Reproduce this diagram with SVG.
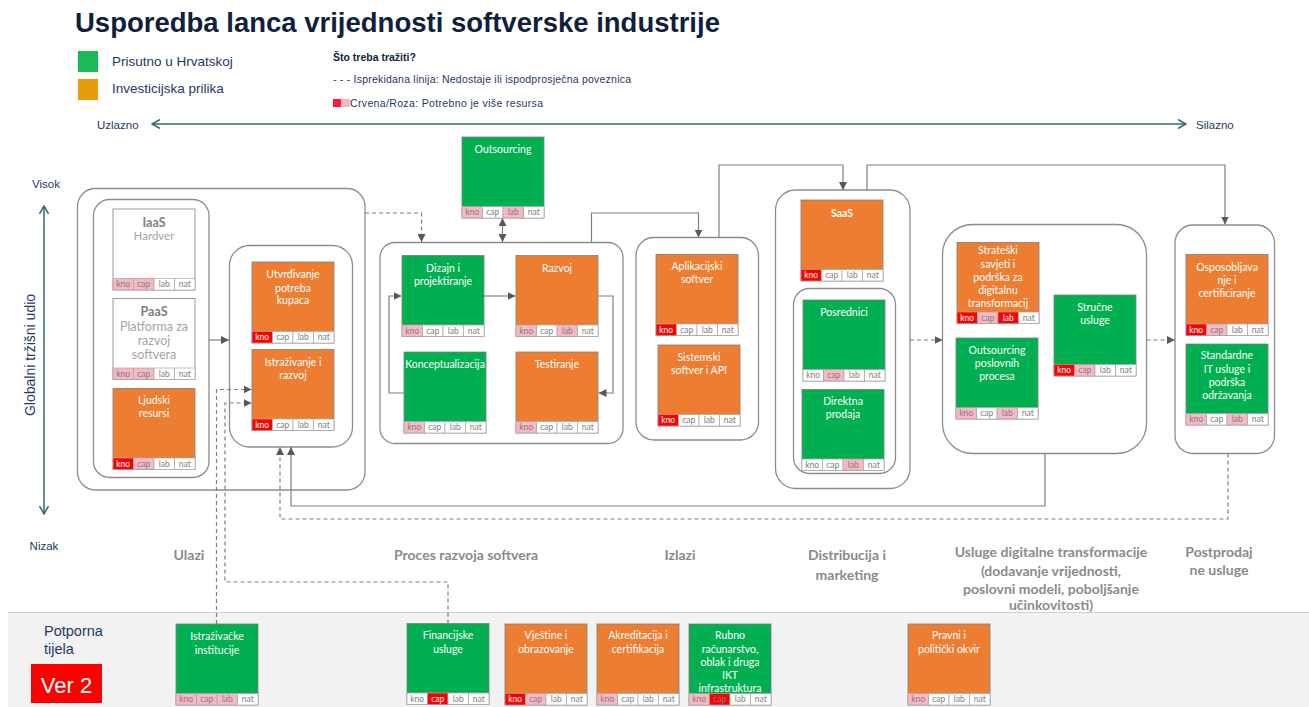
<svg xmlns="http://www.w3.org/2000/svg" width="1309" height="707" viewBox="0 0 1309 707">
<style>
.box{stroke:#7f7f7f;stroke-width:0.8}
.g{fill:#00b050}.o{fill:#ed7d31}.w{fill:#fff}
.cw{fill:#fff;stroke:#a6a6a6;stroke-width:0.7}
.cp{fill:#f8b7c3;stroke:#a6a6a6;stroke-width:0.7}
.cr{fill:#ff0000;stroke:#a6a6a6;stroke-width:0.7}
.t{font-family:Lato,"Liberation Sans",sans-serif;font-size:10.5px;fill:#fff;text-anchor:middle}
.ct{font-family:Lato,"Liberation Sans",sans-serif;font-size:8.5px;fill:#808080;text-anchor:middle}
.ctw{fill:#fff}
.cont{fill:none;stroke:#8c8c8c;stroke-width:1.3}
.conn{fill:none;stroke:#7f7f7f;stroke-width:1.2}
.dash{stroke-dasharray:4 3}
.teal{fill:none;stroke:#2e6b6b;stroke-width:1.5}
.nav{font-family:"Liberation Sans",Arial,sans-serif;fill:#1f3864}
.stage{font-family:Lato,"Liberation Sans",sans-serif;font-size:14px;font-weight:bold;fill:#8a8a8a;text-anchor:middle}
</style>
<defs>
<marker id="ah" viewBox="0 0 10 10" refX="10" refY="5" markerWidth="8" markerHeight="8" markerUnits="userSpaceOnUse" orient="auto-start-reverse"><path d="M0,0 L10,5 L0,10 Z" fill="#595959"/></marker>
<marker id="ch" viewBox="0 0 10 10" refX="9" refY="5" markerWidth="10" markerHeight="10" markerUnits="userSpaceOnUse" orient="auto-start-reverse"><path d="M1,0.5 L9,5 L1,9.5" fill="none" stroke="#2e6b6b" stroke-width="1.5"/></marker>
</defs>
<rect width="1309" height="707" fill="#fff"/>

<g id="header">
<text x="75" y="32" font-family="Liberation Sans,Arial,sans-serif" font-size="27.5" font-weight="bold" fill="#0f1f3d">Usporedba lanca vrijednosti softverske industrije</text>
<rect x="78" y="51" width="20" height="21" fill="#1db954"/>
<rect x="78" y="79" width="20" height="21" fill="#e89c0c"/>
<text x="112" y="66" class="nav" font-size="13.5" fill="#333">Prisutno u Hrvatskoj</text>
<text x="112" y="93" class="nav" font-size="13.5" fill="#333">Investicijska prilika</text>
<text x="333" y="61" font-family="Liberation Sans,Arial,sans-serif" font-size="10.5" font-weight="bold" fill="#0f1f3d">Što treba tražiti?</text>
<text x="333" y="83" font-family="Liberation Sans,Arial,sans-serif" font-size="10.5" fill="#1f3864" textLength="298" lengthAdjust="spacing">- - -  Isprekidana linija: Nedostaje  ili ispodprosječna  poveznica</text>
<rect x="333" y="99" width="8" height="8" fill="#ff1a3c"/>
<rect x="341" y="99" width="9" height="8" fill="#f8b7c3"/>
<text x="350" y="107" font-family="Liberation Sans,Arial,sans-serif" font-size="10.5" fill="#1f3864" textLength="193" lengthAdjust="spacing">Crvena/Roza:  Potrebno je više  resursa</text>
<text x="97" y="129" class="nav" font-size="11.5">Uzlazno</text>
<text x="1196" y="129" class="nav" font-size="11.5">Silazno</text>
<path class="teal" d="M152,124 H1186" marker-start="url(#ch)" marker-end="url(#ch)"/>
<text x="46" y="188" class="nav" font-size="11.5" text-anchor="middle">Visok</text>
<text x="44" y="550" class="nav" font-size="11.5" text-anchor="middle">Nizak</text>
<path class="teal" d="M44,206 V514" marker-start="url(#ch)" marker-end="url(#ch)"/>
<text transform="translate(35,355) rotate(-90)" class="nav" font-size="14" text-anchor="middle">Globalni  tržišni udio</text>
</g>

<g id="stage-labels">
<text class="stage" x="189" y="560">Ulazi</text>
<text class="stage" x="466" y="560">Proces razvoja softvera</text>
<text class="stage" x="680" y="560">Izlazi</text>
<text class="stage" x="847" y="560">Distribucija i</text>
<text class="stage" x="847" y="580">marketing</text>
<text class="stage" x="1051" y="557">Usluge digitalne transformacije</text>
<text class="stage" x="1051" y="576">(dodavanje vrijednosti,</text>
<text class="stage" x="1051" y="594">poslovni modeli, poboljšanje</text>
<text class="stage" x="1051" y="610">učinkovitosti)</text>
<text class="stage" x="1219" y="557">Postprodaj</text>
<text class="stage" x="1219" y="575">ne usluge</text>
</g>

<g id="support-band">
<rect x="8" y="612" width="1301" height="95" fill="#f2f2f2"/>
<path d="M8,612.5 H1309" stroke="#d0d0d0" stroke-width="1"/>
<text x="44" y="636" class="nav" font-size="14.5">Potporna</text>
<text x="44" y="654" class="nav" font-size="14.5">tijela</text>
<rect x="31" y="664" width="71" height="39" fill="#ff0000"/>
<text x="66.5" y="692.5" font-family="Liberation Sans,Arial,sans-serif" font-size="22" fill="#fff" text-anchor="middle">Ver 2</text>
</g>

<g id="containers">
<rect id="c-ulazi" class="cont" x="77.5" y="188.5" width="287.5" height="301.5" rx="18"/>
<rect id="c-ulazi-l" class="cont" x="93.5" y="199.5" width="115.5" height="278" rx="16"/>
<rect id="c-ulazi-r" class="cont" x="229.5" y="245.5" width="123" height="201.5" rx="20"/>
<rect id="c-proces" class="cont" x="380" y="242.5" width="243" height="201" rx="15"/>
<rect id="c-izlazi" class="cont" x="636" y="237.5" width="122.5" height="202.5" rx="18"/>
<rect id="c-distr" class="cont" x="775.5" y="190" width="134.5" height="298.5" rx="20"/>
<rect id="c-distr-in" class="cont" x="793.5" y="288.5" width="102" height="185" rx="16"/>
<rect id="c-usluge" class="cont" x="942.5" y="224.5" width="204" height="229" rx="30"/>
<rect id="c-postprodaja" class="cont" x="1175" y="225" width="99.5" height="228.5" rx="18"/>
</g>

<g id="connectors">
<path class="conn" d="M209,340 H229" marker-end="url(#ah)"/>
<path class="conn dash" d="M365,213 H421.5 V242" marker-end="url(#ah)"/>
<path class="conn" d="M502.5,218 V242" marker-start="url(#ah)" marker-end="url(#ah)"/>
<path class="conn" d="M484,296 H515.5" marker-end="url(#ah)"/>
<path class="conn" d="M598,296 H613 V393 H598.5" marker-end="url(#ah)"/>
<path class="conn" d="M404,393 H389 V296 H401.5" marker-end="url(#ah)"/>
<path class="conn" d="M591.5,242.5 V213 H698.5 V237.5" marker-end="url(#ah)"/>
<path class="conn" d="M719,237.5 V165 H843 V190" marker-end="url(#ah)"/>
<path class="conn" d="M867,190 V165 H1225 V224.5" marker-end="url(#ah)"/>
<path class="conn dash" d="M910,340 H942.5" marker-end="url(#ah)"/>
<path class="conn dash" d="M1146.5,340 H1175" marker-end="url(#ah)"/>
<path class="conn" d="M1045,453.5 V506 H291 V447" marker-end="url(#ah)"/>
<path class="conn dash" d="M1228,453.5 V519 H280 V447" marker-end="url(#ah)"/>
<path class="conn dash" d="M216.5,624 V389.5 H251.5" marker-end="url(#ah)"/>
<path class="conn dash" d="M448,623.5 V582 H225 V403 H251.5" marker-end="url(#ah)"/>
</g>

<g id="n-iaas">
<rect class="box w" x="113" y="209" width="82" height="81"/>
<text x="154" y="227" font-family="Lato,Liberation Sans,sans-serif" font-size="12.5" font-weight="bold" fill="#7f7f7f" text-anchor="middle">IaaS</text>
<text x="154" y="239.5" font-family="Lato,Liberation Sans,sans-serif" font-size="11.5" fill="#a6a6a6" text-anchor="middle">Hardver</text>
<rect class="cp" x="113" y="278.5" width="20.5" height="11.5"/><rect class="cp" x="133.5" y="278.5" width="20.5" height="11.5"/><rect class="cw" x="154" y="278.5" width="20.5" height="11.5"/><rect class="cw" x="174.5" y="278.5" width="20.5" height="11.5"/>
<text class="ct" x="123.25" y="287.3">kno</text><text class="ct" x="143.75" y="287.3">cap</text><text class="ct" x="164.25" y="287.3">lab</text><text class="ct" x="184.75" y="287.3">nat</text>
</g>

<g id="n-paas">
<rect class="box w" x="113" y="298.5" width="82" height="81"/>
<text x="154" y="316" font-family="Lato,Liberation Sans,sans-serif" font-size="12.5" font-weight="bold" fill="#7f7f7f" text-anchor="middle">PaaS</text>
<text x="154" y="330.5" font-family="Lato,Liberation Sans,sans-serif" font-size="12.5" fill="#a6a6a6" text-anchor="middle">Platforma za</text>
<text x="154" y="344.5" font-family="Lato,Liberation Sans,sans-serif" font-size="12.5" fill="#a6a6a6" text-anchor="middle">razvoj</text>
<text x="154" y="359" font-family="Lato,Liberation Sans,sans-serif" font-size="12.5" fill="#a6a6a6" text-anchor="middle">softvera</text>
<rect class="cp" x="113" y="368" width="20.5" height="11.5"/><rect class="cp" x="133.5" y="368" width="20.5" height="11.5"/><rect class="cw" x="154" y="368" width="20.5" height="11.5"/><rect class="cw" x="174.5" y="368" width="20.5" height="11.5"/>
<text class="ct" x="123.25" y="376.8">kno</text><text class="ct" x="143.75" y="376.8">cap</text><text class="ct" x="164.25" y="376.8">lab</text><text class="ct" x="184.75" y="376.8">nat</text>
</g>

<g id="n-ljudski">
<rect class="box o" x="113" y="388.5" width="82" height="81"/>
<text class="t" x="154" y="404">Ljudski</text><text class="t" x="154" y="417">resursi</text>
<rect class="cr" x="113" y="458" width="20.5" height="11.5"/><rect class="cp" x="133.5" y="458" width="20.5" height="11.5"/><rect class="cw" x="154" y="458" width="20.5" height="11.5"/><rect class="cw" x="174.5" y="458" width="20.5" height="11.5"/>
<text class="ct ctw" x="123.25" y="466.8">kno</text><text class="ct" x="143.75" y="466.8">cap</text><text class="ct" x="164.25" y="466.8">lab</text><text class="ct" x="184.75" y="466.8">nat</text>
</g>

<g id="n-utvrdivanje">
<rect class="box o" x="252" y="262" width="82" height="81"/>
<text class="t" x="293" y="278">Utvrđivanje</text><text class="t" x="293" y="291.5">potreba</text><text class="t" x="293" y="304">kupaca</text>
<rect class="cr" x="252" y="331.5" width="20.5" height="11.5"/><rect class="cw" x="272.5" y="331.5" width="20.5" height="11.5"/><rect class="cw" x="293" y="331.5" width="20.5" height="11.5"/><rect class="cw" x="313.5" y="331.5" width="20.5" height="11.5"/>
<text class="ct ctw" x="262.25" y="340.3">kno</text><text class="ct" x="282.75" y="340.3">cap</text><text class="ct" x="303.25" y="340.3">lab</text><text class="ct" x="323.75" y="340.3">nat</text>
</g>

<g id="n-istrazivanje">
<rect class="box o" x="252" y="349.5" width="82" height="81"/>
<text class="t" x="293" y="366">Istraživanje i</text><text class="t" x="293" y="378.5">razvoj</text>
<rect class="cr" x="252" y="419" width="20.5" height="11.5"/><rect class="cw" x="272.5" y="419" width="20.5" height="11.5"/><rect class="cw" x="293" y="419" width="20.5" height="11.5"/><rect class="cw" x="313.5" y="419" width="20.5" height="11.5"/>
<text class="ct ctw" x="262.25" y="427.8">kno</text><text class="ct" x="282.75" y="427.8">cap</text><text class="ct" x="303.25" y="427.8">lab</text><text class="ct" x="323.75" y="427.8">nat</text>
</g>

<g id="n-outsourcing">
<rect class="box g" x="462" y="137" width="82" height="81"/>
<text class="t" x="503" y="152.5">Outsourcing</text>
<rect class="cp" x="462" y="206.5" width="20.5" height="11.5"/><rect class="cw" x="482.5" y="206.5" width="20.5" height="11.5"/><rect class="cp" x="503" y="206.5" width="20.5" height="11.5"/><rect class="cw" x="523.5" y="206.5" width="20.5" height="11.5"/>
<text class="ct" x="472.25" y="215.3">kno</text><text class="ct" x="492.75" y="215.3">cap</text><text class="ct" x="513.25" y="215.3">lab</text><text class="ct" x="533.75" y="215.3">nat</text>
</g>

<g id="n-dizajn">
<rect class="box g" x="402" y="255.5" width="82" height="81"/>
<text class="t" x="443" y="271.5">Dizajn i</text><text class="t" x="443" y="285">projektiranje</text>
<rect class="cp" x="402" y="325" width="20.5" height="11.5"/><rect class="cw" x="422.5" y="325" width="20.5" height="11.5"/><rect class="cw" x="443" y="325" width="20.5" height="11.5"/><rect class="cw" x="463.5" y="325" width="20.5" height="11.5"/>
<text class="ct" x="412.25" y="333.8">kno</text><text class="ct" x="432.75" y="333.8">cap</text><text class="ct" x="453.25" y="333.8">lab</text><text class="ct" x="473.75" y="333.8">nat</text>
</g>

<g id="n-razvoj">
<rect class="box o" x="516" y="255.5" width="82" height="81"/>
<text class="t" x="557" y="271.5">Razvoj</text>
<rect class="cp" x="516" y="325" width="20.5" height="11.5"/><rect class="cw" x="536.5" y="325" width="20.5" height="11.5"/><rect class="cp" x="557" y="325" width="20.5" height="11.5"/><rect class="cw" x="577.5" y="325" width="20.5" height="11.5"/>
<text class="ct" x="526.25" y="333.8">kno</text><text class="ct" x="546.75" y="333.8">cap</text><text class="ct" x="567.25" y="333.8">lab</text><text class="ct" x="587.75" y="333.8">nat</text>
</g>

<g id="n-konceptualizacija">
<rect class="box g" x="404" y="352" width="82" height="81"/>
<text class="t" x="445" y="367.5">Konceptualizacija</text>
<rect class="cp" x="404" y="421.5" width="20.5" height="11.5"/><rect class="cw" x="424.5" y="421.5" width="20.5" height="11.5"/><rect class="cw" x="445" y="421.5" width="20.5" height="11.5"/><rect class="cw" x="465.5" y="421.5" width="20.5" height="11.5"/>
<text class="ct" x="414.25" y="430.3">kno</text><text class="ct" x="434.75" y="430.3">cap</text><text class="ct" x="455.25" y="430.3">lab</text><text class="ct" x="475.75" y="430.3">nat</text>
</g>

<g id="n-testiranje">
<rect class="box o" x="516" y="352" width="82" height="81"/>
<text class="t" x="557" y="367.5">Testiranje</text>
<rect class="cp" x="516" y="421.5" width="20.5" height="11.5"/><rect class="cw" x="536.5" y="421.5" width="20.5" height="11.5"/><rect class="cw" x="557" y="421.5" width="20.5" height="11.5"/><rect class="cw" x="577.5" y="421.5" width="20.5" height="11.5"/>
<text class="ct" x="526.25" y="430.3">kno</text><text class="ct" x="546.75" y="430.3">cap</text><text class="ct" x="567.25" y="430.3">lab</text><text class="ct" x="587.75" y="430.3">nat</text>
</g>

<g id="n-aplikacijski">
<rect class="box o" x="656" y="254.5" width="82" height="81"/>
<text class="t" x="697" y="270">Aplikacijski</text><text class="t" x="697" y="282.5">softver</text>
<rect class="cr" x="656" y="324" width="20.5" height="11.5"/><rect class="cw" x="676.5" y="324" width="20.5" height="11.5"/><rect class="cw" x="697" y="324" width="20.5" height="11.5"/><rect class="cw" x="717.5" y="324" width="20.5" height="11.5"/>
<text class="ct ctw" x="666.25" y="332.8">kno</text><text class="ct" x="686.75" y="332.8">cap</text><text class="ct" x="707.25" y="332.8">lab</text><text class="ct" x="727.75" y="332.8">nat</text>
</g>

<g id="n-sistemski">
<rect class="box o" x="658" y="345" width="82" height="81"/>
<text class="t" x="699" y="361">Sistemski</text><text class="t" x="699" y="374">softver i API</text>
<rect class="cr" x="658" y="414.5" width="20.5" height="11.5"/><rect class="cw" x="678.5" y="414.5" width="20.5" height="11.5"/><rect class="cw" x="699" y="414.5" width="20.5" height="11.5"/><rect class="cw" x="719.5" y="414.5" width="20.5" height="11.5"/>
<text class="ct ctw" x="668.25" y="423.3">kno</text><text class="ct" x="688.75" y="423.3">cap</text><text class="ct" x="709.25" y="423.3">lab</text><text class="ct" x="729.75" y="423.3">nat</text>
</g>

<g id="n-saas">
<rect class="box o" x="801" y="200" width="82" height="81"/>
<text class="t" x="842" y="217" font-size="12.5px" font-weight="bold">SaaS</text>
<rect class="cr" x="801" y="269.5" width="20.5" height="11.5"/><rect class="cw" x="821.5" y="269.5" width="20.5" height="11.5"/><rect class="cw" x="842" y="269.5" width="20.5" height="11.5"/><rect class="cw" x="862.5" y="269.5" width="20.5" height="11.5"/>
<text class="ct ctw" x="811.25" y="278.3">kno</text><text class="ct" x="831.75" y="278.3">cap</text><text class="ct" x="852.25" y="278.3">lab</text><text class="ct" x="872.75" y="278.3">nat</text>
</g>

<g id="n-posrednici">
<rect class="box g" x="803" y="300" width="82" height="81"/>
<text class="t" x="844" y="316">Posrednici</text>
<rect class="cw" x="803" y="369.5" width="20.5" height="11.5"/><rect class="cp" x="823.5" y="369.5" width="20.5" height="11.5"/><rect class="cw" x="844" y="369.5" width="20.5" height="11.5"/><rect class="cw" x="864.5" y="369.5" width="20.5" height="11.5"/>
<text class="ct" x="813.25" y="378.3">kno</text><text class="ct" x="833.75" y="378.3">cap</text><text class="ct" x="854.25" y="378.3">lab</text><text class="ct" x="874.75" y="378.3">nat</text>
</g>

<g id="n-direktna">
<rect class="box g" x="802" y="389.5" width="82" height="81"/>
<text class="t" x="843" y="405">Direktna</text><text class="t" x="843" y="418">prodaja</text>
<rect class="cw" x="802" y="459" width="20.5" height="11.5"/><rect class="cw" x="822.5" y="459" width="20.5" height="11.5"/><rect class="cp" x="843" y="459" width="20.5" height="11.5"/><rect class="cw" x="863.5" y="459" width="20.5" height="11.5"/>
<text class="ct" x="812.25" y="467.8">kno</text><text class="ct" x="832.75" y="467.8">cap</text><text class="ct" x="853.25" y="467.8">lab</text><text class="ct" x="873.75" y="467.8">nat</text>
</g>

<g id="n-strateski">
<rect class="box o" x="957" y="242.5" width="82" height="81"/>
<text class="t" x="998" y="254">Strateški</text><text class="t" x="998" y="267.5">savjeti i</text><text class="t" x="998" y="281">podrška za</text><text class="t" x="998" y="293.5">digitalnu</text><text class="t" x="998" y="307">transformacij</text>
<rect class="cr" x="957" y="312" width="20.5" height="11.5"/><rect class="cp" x="977.5" y="312" width="20.5" height="11.5"/><rect class="cr" x="998" y="312" width="20.5" height="11.5"/><rect class="cw" x="1018.5" y="312" width="20.5" height="11.5"/>
<text class="ct ctw" x="967.25" y="320.8">kno</text><text class="ct" x="987.75" y="320.8">cap</text><text class="ct ctw" x="1008.25" y="320.8">lab</text><text class="ct" x="1028.75" y="320.8">nat</text>
</g>

<g id="n-outsourcing-poslovnih">
<rect class="box g" x="956" y="338" width="82" height="81"/>
<text class="t" x="997" y="354">Outsourcing</text><text class="t" x="997" y="367">poslovnih</text><text class="t" x="997" y="380">procesa</text>
<rect class="cp" x="956" y="407.5" width="20.5" height="11.5"/><rect class="cw" x="976.5" y="407.5" width="20.5" height="11.5"/><rect class="cp" x="997" y="407.5" width="20.5" height="11.5"/><rect class="cw" x="1017.5" y="407.5" width="20.5" height="11.5"/>
<text class="ct" x="966.25" y="416.3">kno</text><text class="ct" x="986.75" y="416.3">cap</text><text class="ct" x="1007.25" y="416.3">lab</text><text class="ct" x="1027.75" y="416.3">nat</text>
</g>

<g id="n-strucne">
<rect class="box g" x="1054" y="295" width="82" height="81"/>
<text class="t" x="1095" y="311">Stručne</text><text class="t" x="1095" y="324">usluge</text>
<rect class="cr" x="1054" y="364.5" width="20.5" height="11.5"/><rect class="cp" x="1074.5" y="364.5" width="20.5" height="11.5"/><rect class="cw" x="1095" y="364.5" width="20.5" height="11.5"/><rect class="cw" x="1115.5" y="364.5" width="20.5" height="11.5"/>
<text class="ct ctw" x="1064.25" y="373.3">kno</text><text class="ct" x="1084.75" y="373.3">cap</text><text class="ct" x="1105.25" y="373.3">lab</text><text class="ct" x="1125.75" y="373.3">nat</text>
</g>

<g id="n-osposobljavanje">
<rect class="box o" x="1186" y="254.5" width="82" height="81"/>
<text class="t" x="1227" y="271">Osposobljava</text><text class="t" x="1227" y="283.5">nje i</text><text class="t" x="1227" y="296.5">certificiranje</text>
<rect class="cr" x="1186" y="324" width="20.5" height="11.5"/><rect class="cp" x="1206.5" y="324" width="20.5" height="11.5"/><rect class="cw" x="1227" y="324" width="20.5" height="11.5"/><rect class="cw" x="1247.5" y="324" width="20.5" height="11.5"/>
<text class="ct ctw" x="1196.25" y="332.8">kno</text><text class="ct" x="1216.75" y="332.8">cap</text><text class="ct" x="1237.25" y="332.8">lab</text><text class="ct" x="1257.75" y="332.8">nat</text>
</g>

<g id="n-standardne">
<rect class="box g" x="1186" y="344" width="82" height="81"/>
<text class="t" x="1227" y="359">Standardne</text><text class="t" x="1227" y="372.5">IT usluge i</text><text class="t" x="1227" y="386">podrška</text><text class="t" x="1227" y="398.5">održavanja</text>
<rect class="cp" x="1186" y="413.5" width="20.5" height="11.5"/><rect class="cw" x="1206.5" y="413.5" width="20.5" height="11.5"/><rect class="cp" x="1227" y="413.5" width="20.5" height="11.5"/><rect class="cw" x="1247.5" y="413.5" width="20.5" height="11.5"/>
<text class="ct" x="1196.25" y="422.3">kno</text><text class="ct" x="1216.75" y="422.3">cap</text><text class="ct" x="1237.25" y="422.3">lab</text><text class="ct" x="1257.75" y="422.3">nat</text>
</g>

<g id="n-istrazivacke">
<rect class="box g" x="176" y="624" width="82" height="81"/>
<text class="t" x="217" y="640">Istraživačke</text><text class="t" x="217" y="654">institucije</text>
<rect class="cp" x="176" y="693.5" width="20.5" height="11.5"/><rect class="cp" x="196.5" y="693.5" width="20.5" height="11.5"/><rect class="cp" x="217" y="693.5" width="20.5" height="11.5"/><rect class="cw" x="237.5" y="693.5" width="20.5" height="11.5"/>
<text class="ct" x="186.25" y="702.3">kno</text><text class="ct" x="206.75" y="702.3">cap</text><text class="ct" x="227.25" y="702.3">lab</text><text class="ct" x="247.75" y="702.3">nat</text>
</g>

<g id="n-financijske">
<rect class="box g" x="407" y="623.5" width="82" height="81"/>
<text class="t" x="448" y="639">Financijske</text><text class="t" x="448" y="652.5">usluge</text>
<rect class="cw" x="407" y="693" width="20.5" height="11.5"/><rect class="cr" x="427.5" y="693" width="20.5" height="11.5"/><rect class="cw" x="448" y="693" width="20.5" height="11.5"/><rect class="cw" x="468.5" y="693" width="20.5" height="11.5"/>
<text class="ct" x="417.25" y="701.8">kno</text><text class="ct ctw" x="437.75" y="701.8">cap</text><text class="ct" x="458.25" y="701.8">lab</text><text class="ct" x="478.75" y="701.8">nat</text>
</g>

<g id="n-vjestine">
<rect class="box o" x="505" y="624" width="82" height="81"/>
<text class="t" x="546" y="639">Vještine i</text><text class="t" x="546" y="652.5">obrazovanje</text>
<rect class="cr" x="505" y="693.5" width="20.5" height="11.5"/><rect class="cp" x="525.5" y="693.5" width="20.5" height="11.5"/><rect class="cw" x="546" y="693.5" width="20.5" height="11.5"/><rect class="cw" x="566.5" y="693.5" width="20.5" height="11.5"/>
<text class="ct ctw" x="515.25" y="702.3">kno</text><text class="ct" x="535.75" y="702.3">cap</text><text class="ct" x="556.25" y="702.3">lab</text><text class="ct" x="576.75" y="702.3">nat</text>
</g>

<g id="n-akreditacija">
<rect class="box o" x="597" y="624" width="82" height="81"/>
<text class="t" x="638" y="639">Akreditacija i</text><text class="t" x="638" y="652.5">certifikacija</text>
<rect class="cp" x="597" y="693.5" width="20.5" height="11.5"/><rect class="cw" x="617.5" y="693.5" width="20.5" height="11.5"/><rect class="cw" x="638" y="693.5" width="20.5" height="11.5"/><rect class="cw" x="658.5" y="693.5" width="20.5" height="11.5"/>
<text class="ct" x="607.25" y="702.3">kno</text><text class="ct" x="627.75" y="702.3">cap</text><text class="ct" x="648.25" y="702.3">lab</text><text class="ct" x="668.75" y="702.3">nat</text>
</g>

<g id="n-rubno">
<rect class="box g" x="689" y="624" width="82" height="81"/>
<text class="t" x="730" y="639">Rubno</text><text class="t" x="730" y="652.5">računarstvo,</text><text class="t" x="730" y="666">oblak i druga</text><text class="t" x="730" y="679">IKT</text><text class="t" x="730" y="692">infrastruktura</text>
<rect class="cp" x="689" y="693.5" width="20.5" height="11.5"/><rect class="cr" x="709.5" y="693.5" width="20.5" height="11.5"/><rect class="cw" x="730" y="693.5" width="20.5" height="11.5"/><rect class="cw" x="750.5" y="693.5" width="20.5" height="11.5"/>
<text class="ct" x="699.25" y="702.3">kno</text><text class="ct" x="719.75" y="702.3">cap</text><text class="ct" x="740.25" y="702.3">lab</text><text class="ct" x="760.75" y="702.3">nat</text>
</g>

<g id="n-pravni">
<rect class="box o" x="908" y="624" width="82" height="81"/>
<text class="t" x="949" y="639">Pravni i</text><text class="t" x="949" y="652.5">politički okvir</text>
<rect class="cp" x="908" y="693.5" width="20.5" height="11.5"/><rect class="cw" x="928.5" y="693.5" width="20.5" height="11.5"/><rect class="cw" x="949" y="693.5" width="20.5" height="11.5"/><rect class="cw" x="969.5" y="693.5" width="20.5" height="11.5"/>
<text class="ct" x="918.25" y="702.3">kno</text><text class="ct" x="938.75" y="702.3">cap</text><text class="ct" x="959.25" y="702.3">lab</text><text class="ct" x="979.75" y="702.3">nat</text>
</g>
</svg>
